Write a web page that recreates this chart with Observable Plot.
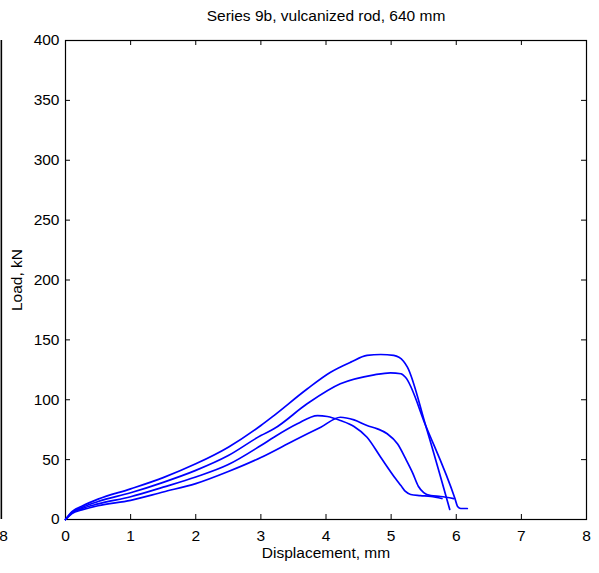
<!DOCTYPE html>
<html>
<head>
<meta charset="utf-8">
<script src="https://cdn.jsdelivr.net/npm/d3@7"></script>
<script src="https://cdn.jsdelivr.net/npm/@observablehq/plot@0.6"></script>
<style>
  html, body { margin: 0; padding: 0; background: #fff; }
  #chart { width: 599px; height: 573px; overflow: hidden; }
</style>
</head>
<body>
<div id="chart"></div>
<script>
const titleText = "Series 9b, vulcanized rod, 640 mm";
const xLabel = "Displacement, mm";
const yLabel = "Load, kN";
const xTicks = [0, 1, 2, 3, 4, 5, 6, 7, 8];
const yTicks = [0, 50, 100, 150, 200, 250, 300, 350, 400];

// Test runs (displacement mm, load kN)
const runA_x = [0, 0.1, 0.25, 0.5, 1, 1.5, 2, 2.5, 3, 3.2, 3.71, 4.07, 4.38, 4.63, 4.84, 5.04, 5.19, 5.25, 5.53, 5.9];
const runA_y = [0, 6.5, 11, 17, 25.6, 35, 46.5, 60.4, 78.5, 86.8, 109, 123, 131.4, 137, 137.8, 137, 132.2, 127.2, 78.5, 8.4];

const runB_x = [0, 0.1, 0.25, 0.5, 1, 1.5, 2, 2.5, 3, 3.2, 3.71, 4.22, 4.74, 4.99, 5.15, 5.22, 5.53, 5.98, 6.02, 6.07, 6.17];
const runB_y = [0, 6, 10, 15, 22.3, 31, 41, 53.4, 70.1, 75.7, 96.6, 113.3, 120.8, 122.5, 121.7, 118.8, 78.5, 17.5, 10.9, 9.2, 9.2];

const runC_x = [0, 0.1, 0.25, 0.5, 1, 1.5, 2, 2.5, 3, 3.2, 3.56, 3.87, 4.02, 4.22, 4.43, 4.63, 4.84, 5.07, 5.15, 5.22, 5.3, 5.45, 5.61, 5.78];
const runC_y = [0, 5.5, 9, 13, 19, 27, 35.5, 45.9, 61.8, 68.7, 79.9, 86.8, 86, 82.7, 77.7, 68.7, 52, 34, 28.4, 23.4, 20.9, 20, 19.2, 17.5];

const runD_x = [0, 0.1, 0.25, 0.5, 1, 1.5, 2, 2.5, 3, 3.51, 3.92, 4.22, 4.43, 4.63, 4.79, 4.94, 5.1, 5.22, 5.33, 5.42, 5.5, 5.61, 5.76, 5.96];
const runD_y = [0, 5, 8, 11.5, 16, 23, 30, 40.1, 51.8, 66, 77.1, 85.4, 83.2, 78.5, 75.7, 71.6, 63, 51, 39, 27.6, 22.5, 20, 19.2, 17.5];

// neighbouring panel's right axis edge, partly visible at the far left
const neighborEdge = -0.985;
const neighborLabel = ["8"];

const runs = [["A", runA_x, runA_y], ["B", runB_x, runB_y], ["C", runC_x, runC_y], ["D", runD_x, runD_y]];
const rows = runs.flatMap(([run, xs, ys]) => xs.map((x, i) => ({run, x, y: ys[i]})));

const font = "'Liberation Sans', Arial, Helvetica, sans-serif";

const W = 599, H = 573;
const mL = 65, mR = 13, mT = 40, mB = 54;
const tickLen = 5;
const innerW = W - mL - mR, innerH = H - mT - mB;

const chart = Plot.plot({
  width: W,
  height: H,
  marginLeft: mL,
  marginRight: mR,
  marginTop: mT,
  marginBottom: mB,
  style: {fontFamily: font, fontSize: "15.5px", background: "white", color: "black", overflow: "visible"},
  x: {domain: [0, 8], label: null},
  y: {domain: [0, 400], label: null},
  marks: [
    // inward ticks on all four sides
    Plot.tickX(xTicks, {x: d => d, insetTop: innerH - tickLen, stroke: "black", strokeWidth: 1}),
    Plot.tickX(xTicks, {x: d => d, insetBottom: innerH - tickLen, stroke: "black", strokeWidth: 1}),
    Plot.tickY(yTicks, {y: d => d, insetRight: innerW - tickLen, stroke: "black", strokeWidth: 1}),
    Plot.tickY(yTicks, {y: d => d, insetLeft: innerW - tickLen, stroke: "black", strokeWidth: 1}),
    Plot.frame({stroke: "black", strokeWidth: 1.2}),
    // tick labels
    Plot.axisX(xTicks, {anchor: "bottom", tickSize: 0, tickPadding: 10, label: null, fill: "black"}),
    Plot.axisY(yTicks, {anchor: "left", tickSize: 0, tickPadding: 6, label: null, fill: "black"}),
    Plot.line(rows, {x: "x", y: "y", z: "run", stroke: "#0000ff", strokeWidth: 1.7, curve: "monotone-x"}),
    Plot.ruleX([neighborEdge], {y1: 0, y2: 400, stroke: "black", strokeWidth: 1.6}),
    Plot.text(neighborLabel, {x: neighborEdge + 0.035, y: 0, text: d => d, dy: 10, lineAnchor: "top", fill: "black"}),
    Plot.text([titleText], {frameAnchor: "top", dy: -31, text: d => d, fill: "black", fontSize: 15.5}),
    Plot.text([xLabel], {frameAnchor: "bottom", dy: 38, text: d => d, fill: "black", fontSize: 15.5}),
    Plot.text([yLabel], {frameAnchor: "left", dx: -48, rotate: -90, textAnchor: "middle", text: d => d, fill: "black", fontSize: 15.5})
  ]
});
document.getElementById("chart").appendChild(chart);
</script>
</body>
</html>
